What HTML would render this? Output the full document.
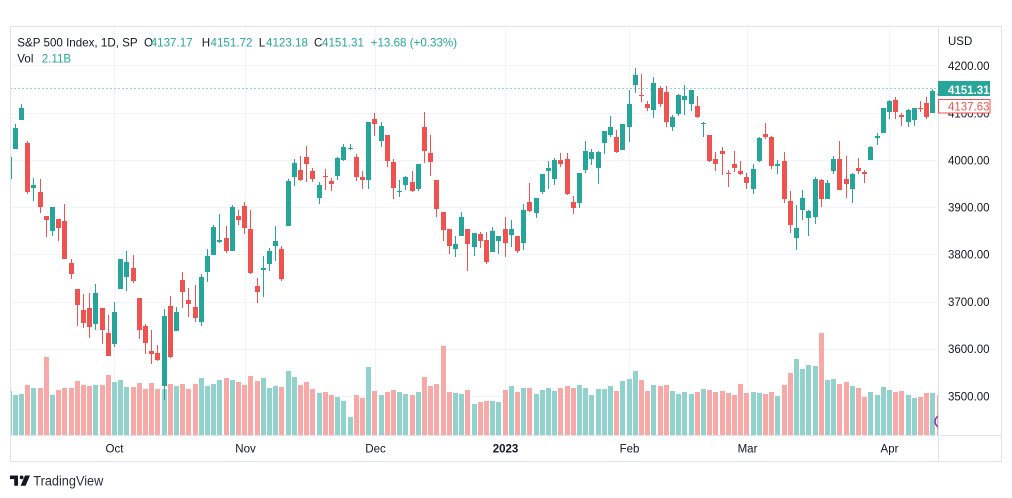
<!DOCTYPE html>
<html><head><meta charset="utf-8"><style>
html,body{margin:0;padding:0;background:#fff;width:1012px;height:498px;overflow:hidden}
svg{display:block}
text{font-family:"Liberation Sans",Arial,sans-serif}
</style></head><body>
<svg xmlns="http://www.w3.org/2000/svg" width="1012" height="498" viewBox="0 0 1012 498">
<rect width="1012" height="498" fill="#fff"/>
<defs><clipPath id="pane"><rect x="10.5" y="26.5" width="927.5" height="408.5"/></clipPath></defs>
<g stroke="#f0f3fa" stroke-width="1" shape-rendering="crispEdges">
<line x1="10" y1="65.5" x2="938" y2="65.5"/>
<line x1="10" y1="113.5" x2="938" y2="113.5"/>
<line x1="10" y1="160.5" x2="938" y2="160.5"/>
<line x1="10" y1="207.5" x2="938" y2="207.5"/>
<line x1="10" y1="254.5" x2="938" y2="254.5"/>
<line x1="10" y1="302.5" x2="938" y2="302.5"/>
<line x1="10" y1="349.5" x2="938" y2="349.5"/>
<line x1="10" y1="396.5" x2="938" y2="396.5"/>
<line x1="114.5" y1="26" x2="114.5" y2="435"/>
<line x1="245.5" y1="26" x2="245.5" y2="435"/>
<line x1="375.5" y1="26" x2="375.5" y2="435"/>
<line x1="505.5" y1="26" x2="505.5" y2="435"/>
<line x1="629.5" y1="26" x2="629.5" y2="435"/>
<line x1="747.5" y1="26" x2="747.5" y2="435"/>
<line x1="889.5" y1="26" x2="889.5" y2="435"/>
</g>
<g id="vol" clip-path="url(#pane)" shape-rendering="crispEdges"></g>
<g id="cdl" clip-path="url(#pane)" shape-rendering="crispEdges"></g>
<circle cx="941" cy="421.5" r="6" fill="none" stroke="#9c27b0" stroke-width="1.5" clip-path="url(#pane)"/>
<line x1="10.5" y1="88.5" x2="938" y2="88.5" stroke="#26a69a" stroke-width="1" stroke-dasharray="1 3"/>
<g fill="none" stroke="#e0e3eb" stroke-width="1" shape-rendering="crispEdges">
<rect x="10.5" y="26.5" width="991" height="435"/>
<line x1="938.5" y1="26.5" x2="938.5" y2="461.5"/>
<line x1="10.5" y1="435.5" x2="1001.5" y2="435.5"/>
</g>
<g font-size="11.6" fill="#131722">
<text x="17.3" y="46.7">S&amp;P 500 Index, 1D, SP</text>
<text x="144" y="46.7">O</text><text x="150.7" y="46.7" fill="#26a69a">4137.17</text>
<text x="201.7" y="46.7">H</text><text x="210.5" y="46.7" fill="#26a69a">4151.72</text>
<text x="258.7" y="46.7">L</text><text x="266" y="46.7" fill="#26a69a">4123.18</text>
<text x="314" y="46.7">C</text><text x="322" y="46.7" fill="#26a69a">4151.31</text>
<text x="370.7" y="46.7" fill="#26a69a">+13.68 (+0.33%)</text>
<text x="17.3" y="62.7">Vol</text><text x="41.7" y="62.7" fill="#26a69a">2.11B</text>
</g>
<g font-size="11.5" fill="#131722">
<text x="948" y="45">USD</text>
<text x="948" y="70">4200.00</text>
<text x="948" y="117.6">4100.00</text>
<text x="948" y="164.3">4000.00</text>
<text x="948" y="211.5">3900.00</text>
<text x="948" y="258.7">3800.00</text>
<text x="948" y="306">3700.00</text>
<text x="948" y="353.2">3600.00</text>
<text x="948" y="400.4">3500.00</text>
</g>
<rect x="938.5" y="99.5" width="51.5" height="13.5" fill="#fff" stroke="#ef5350" stroke-width="1" shape-rendering="crispEdges"/>
<text x="948" y="110.6" font-size="11.5" fill="#ef5350">4137.63</text>
<rect x="938" y="81" width="52" height="15" fill="#26a69a"/>
<text x="948" y="93.8" font-size="11.5" font-weight="bold" fill="#fff">4151.31</text>
<g font-size="11.5" fill="#131722" text-anchor="middle">
<text x="114.5" y="452.7">Oct</text>
<text x="245.5" y="452.7">Nov</text>
<text x="375.5" y="452.7">Dec</text>
<text x="505.5" y="452.7" font-weight="bold">2023</text>
<text x="629.5" y="452.7">Feb</text>
<text x="747.5" y="452.7">Mar</text>
<text x="889.5" y="452.7">Apr</text>
</g>
<g fill="#131722">
<rect x="10" y="475.5" width="8" height="3.6"/>
<rect x="14.2" y="475.5" width="3.8" height="10.2"/>
<circle cx="21.6" cy="477.4" r="1.9"/>
<polygon points="25,475.5 30,475.5 25.6,485.7 20.6,485.7"/>
</g>
<text x="33.3" y="485.7" font-size="13.5" fill="#2a2e39" textLength="70" lengthAdjust="spacingAndGlyphs">TradingView</text>
</svg>
<script>
const D=[
[3959.94,4010.50,3944.81,4006.18],[4022.94,4076.81,4022.94,4067.36],[4083.67,4119.28,4083.67,4110.41],[4037,4040,3928.40,3932.69],
[3940.73,3961.94,3912.26,3946.01],[3932.41,3959.14,3888.28,3901.35],[3880.95,3880.95,3837.08,3873.33],[3849.91,3900.45,3838.50,3899.89],
[3875.23,3876.01,3827.54,3855.93],[3871.40,3907.07,3789.49,3789.93],[3782.36,3790.68,3749.03,3757.99],[3727.14,3727.14,3647.47,3693.23],
[3682.72,3715.67,3644.76,3655.04],[3686.44,3717.53,3623.29,3647.29],[3651.94,3736.74,3640.61,3719.04],[3687.01,3687.01,3610.40,3640.47],
[3633.48,3671.44,3584.13,3585.62],[3609.78,3698.35,3604.93,3678.43],[3726.46,3790.93,3726.46,3790.93],[3753.25,3806.91,3722.66,3783.28],
[3771.97,3797.80,3739.22,3744.52],[3706.74,3706.74,3620.73,3639.66],[3647.51,3652.17,3588.10,3612.39],[3595.86,3640.66,3568.45,3588.84],
[3590.83,3608.34,3573.86,3577.03],[3520.37,3685.41,3491.58,3669.91],[3690.41,3712.00,3579.68,3583.07],[3638.65,3689.73,3638.65,3677.95],
[3746.26,3762.79,3686.53,3719.98],[3703.11,3728.58,3666.51,3695.16],[3689.05,3736.00,3656.44,3665.78],[3657.10,3757.89,3647.42,3752.75],
[3762.01,3810.74,3741.65,3797.34],[3799.44,3862.85,3799.44,3859.11],[3825.97,3886.15,3824.07,3830.60],[3834.69,3859.95,3803.79,3807.30],
[3808.26,3905.42,3808.26,3901.06],[3881.85,3893.73,3863.18,3871.98],[3901.79,3911.79,3843.80,3856.10],[3852.90,3894.44,3758.68,3759.69],
[3733.25,3750.59,3698.15,3719.89],[3766.98,3796.34,3708.84,3770.55],[3780.71,3813.95,3764.70,3806.80],[3817.02,3859.40,3786.28,3828.11],
[3810.94,3818.20,3744.22,3748.57],[3859.89,3959.02,3859.89,3956.37],[3963.72,4001.48,3944.82,3992.93],[3977.97,4008.97,3956.40,3957.25],
[4006.41,4028.84,3953.17,3991.73],[3976.82,3983.09,3954.34,3958.79],[3919.26,3954.33,3906.54,3946.56],[3966.39,3979.89,3935.98,3965.34],
[3956.23,3962.00,3933.34,3949.94],[3965.51,4005.88,3956.88,4003.58],[4000.30,4033.78,3998.66,4027.26],[4023.34,4034.02,4020.76,4026.12],
[4005.36,4012.27,3955.77,3963.94],[3964.19,3976.77,3937.65,3957.63],[3957.18,4080.11,3938.58,4080.11],[4087.14,4100.51,4050.87,4076.57],
[4040.17,4080.48,4026.63,4071.70],[4052.02,4052.45,3984.49,3998.84],[3996.63,4001.51,3918.39,3941.26],[3933.28,3957.57,3922.68,3933.92],
[3947.79,3966.64,3935.83,3963.51],[3954.17,3977.02,3933.04,3934.38],[3939.29,3990.71,3935.30,3990.56],[4069.38,4100.96,3993.03,4019.65],
[4015.54,4053.76,3965.65,3995.32],[3958.37,3958.37,3879.45,3895.75],[3890.91,3890.91,3827.91,3852.36],[3853.79,3854.86,3800.04,3817.66],
[3810.47,3838.24,3795.62,3821.62],[3839.49,3889.82,3839.49,3878.44],[3853.26,3853.26,3764.49,3822.39],[3815.11,3845.80,3797.01,3844.82],
[3843.34,3846.65,3813.22,3829.25],[3829.56,3848.32,3780.78,3783.22],[3805.45,3858.19,3805.45,3849.28],[3829.06,3839.85,3800.34,3839.50],
[3853.29,3878.46,3794.33,3824.14],[3840.36,3873.16,3815.77,3852.97],[3839.74,3839.74,3802.42,3808.10],[3823.37,3906.19,3809.56,3895.08],
[3910.82,3950.57,3890.42,3892.09],[3888.57,3919.83,3877.29,3919.25],[3932.35,3970.07,3928.54,3969.61],[3977.57,3997.76,3937.56,3983.17],
[3960.60,4003.95,3947.67,3999.09],[3999.28,4015.39,3984.57,3990.97],[4002.25,4014.16,3926.59,3928.86],[3911.84,3922.94,3885.54,3898.85],
[3909.04,3972.96,3897.86,3972.61],[3978.14,4039.31,3971.64,4019.81],[4001.74,4023.92,3989.79,4016.95],[3982.71,4019.55,3949.06,4016.22],
[4036.08,4061.57,4013.29,4060.43],[4053.72,4094.21,4048.70,4070.56],[4049.27,4063.85,4015.55,4017.77],[4020.85,4077.16,4020.44,4076.60],
[4070.07,4148.95,4037.20,4119.21],[4158.68,4195.44,4141.88,4179.76],[4136.69,4182.36,4123.36,4136.48],[4119.57,4124.63,4103.98,4111.08],
[4105.35,4176.54,4088.39,4164.00],[4153.47,4156.85,4111.67,4117.86],[4144.25,4156.23,4069.67,4081.50],[4068.92,4094.36,4060.79,4090.46],
[4096.62,4138.90,4092.67,4137.29],[4126.70,4159.77,4095.01,4136.13],[4119.50,4148.11,4103.98,4147.60],[4114.75,4136.54,4089.59,4090.41],
[4077.39,4081.51,4047.95,4079.09],[4052.35,4052.35,3995.19,3997.34],[4001.83,4017.37,3976.90,3991.05],[4018.60,4028.30,3969.19,4012.32],
[3973.24,3978.25,3943.08,3970.04],[3992.36,4018.05,3973.55,3982.24],[3977.19,3997.50,3968.98,3970.15],[3963.34,3971.73,3939.05,3951.39],
[3938.68,3990.84,3928.16,3981.35],[3998.02,4048.29,3995.17,4045.64],[4055.15,4078.49,4044.61,4048.42],[4048.26,4050.00,3980.31,3986.37],
[3987.55,4000.41,3969.76,3992.01],[3998.66,4017.81,3908.70,3918.32],[3912.77,3934.05,3846.32,3861.59],[3835.12,3905.05,3808.86,3855.76],
[3894.01,3937.29,3873.63,3919.29],[3876.74,3894.26,3838.24,3891.93],[3878.93,3964.46,3864.11,3960.28],[3958.69,3958.91,3901.27,3916.64],
[3917.47,3956.62,3916.89,3951.57],[3975.89,4009.08,3971.19,4002.87],[4002.04,4039.49,3936.17,3936.97],[3959.21,4007.66,3919.05,3948.72],
[3939.21,3972.74,3909.16,3970.99],[3982.93,4003.83,3970.49,3977.53],[3974.13,3979.20,3951.53,3971.27],[3999.53,4030.59,3999.53,4027.81],
[4046.74,4057.85,4032.10,4050.83],[4056.18,4110.75,4056.18,4109.31],[4102.20,4127.66,4086.87,4124.51],[4128.03,4133.13,4086.87,4100.60],
[4094.50,4099.69,4072.56,4090.38],[4081.15,4107.32,4069.84,4105.02],[4085.20,4109.50,4072.55,4109.11],[4110.29,4124.26,4102.61,4108.94],
[4121.72,4134.37,4086.94,4091.95],[4100.04,4150.26,4099.40,4146.22],[4140.11,4163.19,4113.20,4137.64],[4137.17,4151.72,4123.18,4151.31]
];
const V=[391,395,394,385,388,388,357,395,390,388,388,381,385,386,385,385,375,382,380,387,387,383,389,383,389,389,384,386,384,389,384,378,386,384,380,378,380,382,385,376,381,378,388,386,387,371,377,385,382,389,393,
392,395,397,401,417,395,398,367,391,395,392,390,392,394,395,392,377,386,384,346,392,393,394,390,404,402,401,401,402,
390,386,392,388,388,394,390,388,391,388,386,388,385,388,395,389,389,386,391,381,
379,371,380,391,385,386,385,391,394,392,394,392,389,390,392,391,393,395,384,
393,392,393,394,392,396,385,373,359,369,365,366,333,380,379,384,382,386,388,397,392,395,387,
390,392,391,395,398,397,393,393,395,390];
const y=p=>160-(p-4000)*0.4722;
let vs='',cs='';
for(let i=0;i<D.length;i++){
  const o=D[i][0],h=D[i][1],l=D[i][2],c=D[i][3];
  const cx=Math.round(8.6+6.2*i);
  const up=c>=o;
  if(i<V.length){const t=Math.round(V[i]);vs+='<rect x="'+(cx-2)+'" y="'+t+'" width="5" height="'+(435-t)+'" fill="'+(up?'#92d2cc':'#f7a9a7')+'"/>';}
  const col=up?'#26a69a':'#ef5350';
  const yh=Math.round(y(h)),yl=Math.round(y(l));
  cs+='<rect x="'+cx+'" y="'+yh+'" width="1" height="'+Math.max(1,yl-yh)+'" fill="'+col+'"/>';
  let bt=Math.round(y(Math.max(o,c))),bb=Math.round(y(Math.min(o,c)));
  if(bb-bt<1)bb=bt+1;
  cs+='<rect x="'+(cx-2)+'" y="'+bt+'" width="5" height="'+(bb-bt)+'" fill="'+col+'"/>';
}
document.getElementById('vol').innerHTML=vs;
document.getElementById('cdl').innerHTML=cs;
</script>
</body></html>
